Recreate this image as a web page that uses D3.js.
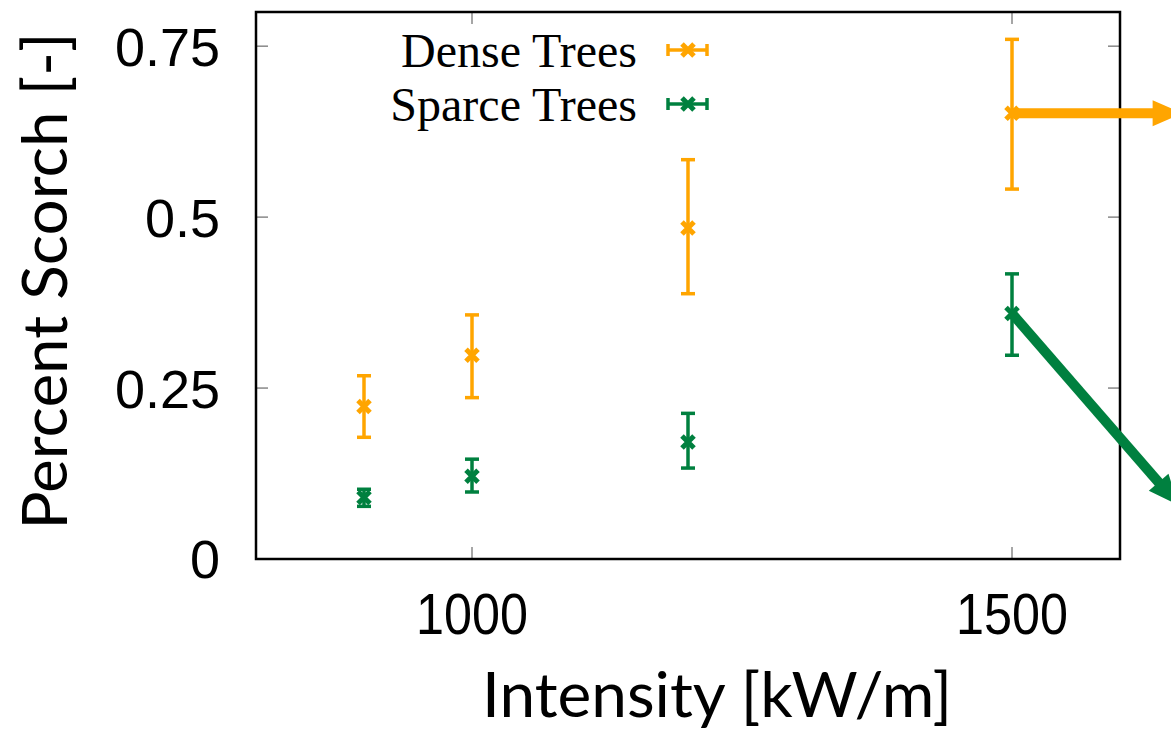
<!DOCTYPE html>
<html>
<head>
  <title>Percent Scorch vs Intensity</title>
  <script src="https://d3js.org/d3.v7.min.js"></script>
  <style>
    body { margin: 0; background: #fff; }
  </style>
</head>
<body>
<svg width="1171" height="729"></svg>
<script>
  // intensities [kW/m]
  const intensity = [900, 1000, 1200, 1500];

  // dense trees: mean, low, high
  const denseMean = [0.223, 0.298, 0.484, 0.652];
  const denseLow  = [0.178, 0.236, 0.388, 0.541];
  const denseHigh = [0.268, 0.357, 0.584, 0.760];

  // sparce trees: mean, low, high
  const sparceMean = [0.090, 0.121, 0.171, 0.359];
  const sparceLow  = [0.077, 0.098, 0.133, 0.298];
  const sparceHigh = [0.102, 0.146, 0.213, 0.417];

  const xTicks = [1000, 1500];
  const yTicks = [0, 0.25, 0.5, 0.75];
  const yTickLabels = ["0", "0.25", "0.5", "0.75"];

  // annotation arrows: [x0, y0, x1, y1] in data units
  const denseArrow = [1500, 0.652, 1658, 0.652];
  const sparceArrow = [1500, 0.359, 1654, 0.079];

  const orange = "#ffa500";
  const green = "#00803f";

  const plotL = 256, plotR = 1120, plotT = 12, plotB = 559;

  const svg = d3.select("svg");

  const x = d3.scaleLinear().domain([800, 1600]).range([plotL, plotR]);
  const y = d3.scaleLinear().domain([0, 0.8]).range([plotB, plotT]);

  // ticks (inward, mirrored)
  const tickLen = 12;
  const ticks = svg.append("g").attr("stroke", "#888").attr("stroke-width", 1.5);
  yTicks.forEach(v => {
    ticks.append("line").attr("x1", plotL).attr("x2", plotL + tickLen).attr("y1", y(v)).attr("y2", y(v));
    ticks.append("line").attr("x1", plotR).attr("x2", plotR - tickLen).attr("y1", y(v)).attr("y2", y(v));
  });
  xTicks.forEach(v => {
    ticks.append("line").attr("x1", x(v)).attr("x2", x(v)).attr("y1", plotB).attr("y2", plotB - tickLen);
    ticks.append("line").attr("x1", x(v)).attr("x2", x(v)).attr("y1", plotT).attr("y2", plotT + tickLen);
  });

  // frame
  svg.append("rect")
    .attr("x", plotL).attr("y", plotT)
    .attr("width", plotR - plotL).attr("height", plotB - plotT)
    .attr("fill", "none").attr("stroke", "#000").attr("stroke-width", 2.5);

  // tick labels
  svg.append("g").selectAll("text")
    .data(yTicks)
    .enter().append("text")
    .attr("x", 220)
    .attr("y", d => y(d))
    .attr("dy", "0.36em")
    .attr("text-anchor", "end")
    .attr("font-family", "Liberation Sans, Arial, sans-serif")
    .attr("font-size", 54)
    .text((d, i) => yTickLabels[i]);

  svg.append("g").selectAll("text")
    .data(xTicks)
    .enter().append("text")
    .attr("x", d => x(d))
    .attr("y", 634)
    .attr("text-anchor", "middle")
    .attr("font-family", "Liberation Sans, Arial, sans-serif")
    .attr("font-size", 57)
    .attr("textLength", 112)
    .attr("lengthAdjust", "spacingAndGlyphs")
    .text(d => d);

  // axis titles
  svg.append("text")
    .attr("x", 717).attr("y", 717)
    .attr("text-anchor", "middle")
    .attr("font-family", "Lato, sans-serif")
    .attr("font-size", 62)
    .attr("textLength", 470)
    .attr("lengthAdjust", "spacingAndGlyphs")
    .text("Intensity [kW/m]");

  svg.append("text")
    .attr("transform", "translate(67,281) rotate(-90)")
    .attr("text-anchor", "middle")
    .attr("font-family", "Lato, sans-serif")
    .attr("font-size", 62)
    .attr("textLength", 497)
    .attr("lengthAdjust", "spacingAndGlyphs")
    .text("Percent Scorch [-]");

  // series: error bars + cross markers
  function drawSeries(mean, low, high, c) {
    const g = svg.append("g").attr("stroke", c).attr("stroke-width", 3.5).attr("fill", "none");
    intensity.forEach((v, i) => {
      const cx = x(v);
      g.append("line").attr("x1", cx).attr("x2", cx).attr("y1", y(low[i])).attr("y2", y(high[i]));
      g.append("line").attr("x1", cx - 7).attr("x2", cx + 7).attr("y1", y(low[i])).attr("y2", y(low[i]));
      g.append("line").attr("x1", cx - 7).attr("x2", cx + 7).attr("y1", y(high[i])).attr("y2", y(high[i]));
      const cy = y(mean[i]);
      g.append("path")
        .attr("d", `M${cx - 6},${cy - 6}L${cx + 6},${cy + 6}M${cx - 6},${cy + 6}L${cx + 6},${cy - 6}`)
        .attr("stroke-width", 5);
    });
  }

  // annotation arrow: shaft + filled head drawn along the line
  function drawArrow(a, c) {
    const x0 = x(a[0]), y0 = y(a[1]), x1 = x(a[2]), y1 = y(a[3]);
    const len = Math.hypot(x1 - x0, y1 - y0);
    const ux = (x1 - x0) / len, uy = (y1 - y0) / len;
    const headLen = 30, headHalf = 13;
    const bx = x1 - ux * headLen, by = y1 - uy * headLen;
    svg.append("line")
      .attr("x1", x0).attr("y1", y0)
      .attr("x2", bx + ux * 2).attr("y2", by + uy * 2)
      .attr("stroke", c).attr("stroke-width", 10);
    svg.append("path")
      .attr("d", `M${x1},${y1}L${bx - uy * headHalf},${by + ux * headHalf}L${bx + uy * headHalf},${by - ux * headHalf}Z`)
      .attr("fill", c);
  }

  drawSeries(denseMean, denseLow, denseHigh, orange);
  drawSeries(sparceMean, sparceLow, sparceHigh, green);

  drawArrow(denseArrow, orange);
  drawArrow(sparceArrow, green);

  // legend
  const legend = [["Dense Trees", orange, 50], ["Sparce Trees", green, 104]];
  legend.forEach(([label, c, ly]) => {
    svg.append("text")
      .attr("x", 637).attr("y", ly + 17)
      .attr("text-anchor", "end")
      .attr("font-family", "Liberation Serif, Times New Roman, serif")
      .attr("font-size", 48)
      .text(label);
    const g = svg.append("g").attr("stroke", c).attr("stroke-width", 3.5);
    g.append("line").attr("x1", 668).attr("x2", 707).attr("y1", ly).attr("y2", ly);
    g.append("line").attr("x1", 668).attr("x2", 668).attr("y1", ly - 6).attr("y2", ly + 6);
    g.append("line").attr("x1", 707).attr("x2", 707).attr("y1", ly - 6).attr("y2", ly + 6);
    g.append("path")
      .attr("d", `M682,${ly - 6}L694,${ly + 6}M682,${ly + 6}L694,${ly - 6}`)
      .attr("stroke-width", 5);
  });
</script>
</body>
</html>
